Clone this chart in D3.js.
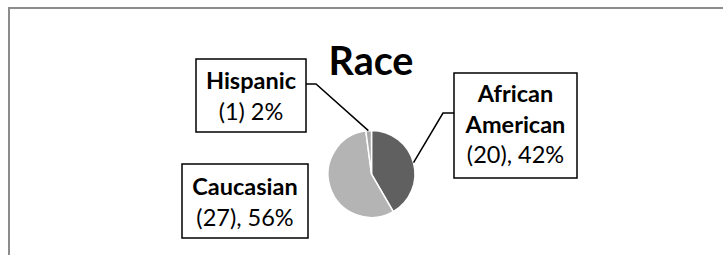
<!DOCTYPE html>
<html>
<head>
<meta charset="utf-8">
<script src="https://cdn.jsdelivr.net/npm/d3@7"></script>
<style>
  body { margin: 0; background: #fff; }
  svg { display: block; font-family: Lato, "Noto Sans", sans-serif; }
</style>
</head>
<body>
<div id="chart"></div>
<script>
// data
var categories = ["African American", "Caucasian", "Hispanic"];
var counts = [20, 27, 1];
var percents = ["42%", "56%", "2%"];
var valueLabels = ["(20), 42%", "(27), 56%", "(1) 2%"];
var titleText = "Race";

var width = 723, height = 255;
var colors = d3.scaleOrdinal().domain(categories).range(["#606060", "#b4b4b4", "#a9a9a9"]);

var svg = d3.select("#chart").append("svg")
    .attr("width", width)
    .attr("height", height);

// chart frame (clipped at right/bottom in the original)
svg.append("rect")
    .attr("x", 9).attr("y", 8)
    .attr("width", width + 20).attr("height", height + 20)
    .attr("fill", "none")
    .attr("stroke", "#8c8c8c")
    .attr("stroke-width", 2);

svg.append("text")
    .attr("x", 371)
    .attr("y", 75)
    .attr("text-anchor", "middle")
    .style("font-weight", "bold")
    .style("font-size", "39.5px")
    .text(titleText);

var cx = 371.5, cy = 174, r = 43.5;

var pie = d3.pie().sort(null).value(function(d, i) { return counts[i]; });
var arcs = pie(categories);
var arc = d3.arc().innerRadius(0).outerRadius(r);

var pieG = svg.append("g").attr("transform", "translate(" + cx + "," + cy + ")");
pieG.selectAll("path")
    .data(arcs)
  .enter().append("path")
    .attr("d", arc)
    .attr("fill", function(d) { return colors(d.data); })
    .attr("stroke", "#fff")
    .attr("stroke-width", 1.5)
    .attr("stroke-linejoin", "round");

// label boxes: [x, y, w, h], elbow point, where the leader meets the box
var boxes = {
  "African American": { box: [454, 73, 123, 105], elbow: [443, 113], join: [454, 113], at: 0.5, lines: ["African", "American"], base: 102 },
  "Caucasian":        { box: [182, 164, 126, 74], elbow: null, lines: ["Caucasian"], base: 195 },
  "Hispanic":         { box: [196, 59, 110, 73], elbow: [316, 84], join: [306, 84], at: 0.45, lines: ["Hispanic"], base: 89 }
};

var lineGap = 30.5;

arcs.forEach(function(a, i) {
  var b = boxes[a.data];
  var g = svg.append("g");

  if (b.elbow) {
    // leader starts on the rim of its slice
    var ang = a.startAngle + (a.endAngle - a.startAngle) * b.at;
    var sx = cx + r * Math.sin(ang), sy = cy - r * Math.cos(ang);
    g.append("polyline")
        .attr("points", [[sx, sy], b.elbow, b.join].map(function(p) { return p.join(","); }).join(" "))
        .attr("fill", "none")
        .attr("stroke", "#000")
        .attr("stroke-width", 1.5);
  }

  g.append("rect")
      .attr("x", b.box[0]).attr("y", b.box[1])
      .attr("width", b.box[2]).attr("height", b.box[3])
      .attr("fill", "#fff")
      .attr("stroke", "#000")
      .attr("stroke-width", 1.5);

  var mid = b.box[0] + b.box[2] / 2;
  var rows = b.lines.map(function(t) { return { t: t, bold: true }; })
      .concat([{ t: valueLabels[i], bold: false }]);
  g.selectAll("text")
      .data(rows)
    .enter().append("text")
      .attr("x", mid)
      .attr("y", function(d, k) { return b.base + k * lineGap; })
      .attr("text-anchor", "middle")
      .style("font-size", "23.5px")
      .style("font-weight", function(d) { return d.bold ? "bold" : "normal"; })
      .text(function(d) { return d.t; });
});
</script>
</body>
</html>
